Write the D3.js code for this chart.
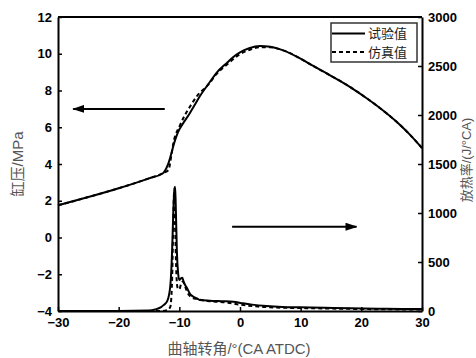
<!DOCTYPE html>
<html>
<head>
<meta charset="utf-8">
<script src="https://cdn.jsdelivr.net/npm/d3@7"></script>
<style>
  body { margin: 0; background: #fff; }
  svg { display: block; }
</style>
</head>
<body>
<div id="chart"></div>
<script>
// crank angle (°CA ATDC) and values
const pExpAngle = [-30, -25, -20, -15, -12.7, -11.8, -10.7, -10.2, -9.4, -8.3, -7.4, -6.6, -5, -3.9, -2, -1.2, 0, 1.5, 3.3, 5, 7, 9.9, 12, 15, 18.1, 21, 24, 26.3, 28, 30];
const pExp = [1.75, 2.2, 2.68, 3.22, 3.5, 4.04, 5.3, 5.75, 6.2, 6.75, 7.25, 7.7, 8.45, 8.95, 9.55, 9.8, 10.08, 10.3, 10.42, 10.38, 10.2, 9.75, 9.35, 8.8, 8.2, 7.55, 6.8, 6.15, 5.6, 4.87];

const pSimAngle = [-30, -25, -20, -15, -12.7, -11.8, -11.3, -11, -9.9, -9.1, -8, -7.2, -5, -4, -2, 0, 1.5, 3.5, 5, 7, 9.9, 12, 15, 18.1, 21, 24, 26.3, 28, 30];
const pSim = [1.75, 2.2, 2.68, 3.22, 3.5, 3.67, 4.5, 5.1, 6.1, 6.65, 7.25, 7.65, 8.4, 8.85, 9.45, 9.98, 10.2, 10.36, 10.35, 10.2, 9.75, 9.35, 8.8, 8.2, 7.55, 6.8, 6.15, 5.6, 4.87];

const hrrExpAngle = [-30, -20, -15, -14, -13, -12.6, -12, -11.5, -11.2, -11, -10.8, -10.7, -10.6, -10.4, -10.2, -10, -9.8, -9.5, -9.3, -9, -8.7, -8.3, -7.8, -7, -6.6, -5, -3, -1.1, 0.5, 2, 4.4, 7, 9.9, 14, 18.1, 24, 30];
const hrrExp = [0, 0, 5, 15, 40, 60, 100, 250, 600, 1000, 1250, 1268, 1100, 600, 385, 316, 330, 340, 300, 260, 230, 180, 150, 125, 112, 105, 100, 95, 78, 65, 51, 42, 38, 32, 27, 23, 20];

const hrrSimAngle = [-30, -13, -12, -11.5, -11.2, -11, -10.85, -10.7, -10.5, -10.3, -10, -9.7, -9.4, -9, -8.5, -8, -7, -5, -2, 0, 3, 6, 10, 15, 20, 30];
const hrrSim = [0, 0, 10, 40, 300, 900, 1220, 900, 400, 240, 220, 280, 300, 240, 170, 140, 120, 100, 85, 65, 45, 35, 30, 25, 20, 15];

const xTicks = [-30, -20, -10, 0, 10, 20, 30];
const pTicks = [-4, -2, 0, 2, 4, 6, 8, 10, 12];
const hrrTicks = [0, 500, 1000, 1500, 2000, 2500, 3000];
const legendLabels = ["试验值", "仿真值"];

const W = 476, H = 358;
const margin = { top: 17, right: 54, bottom: 47, left: 58 };
const width = W - margin.left - margin.right;
const height = H - margin.top - margin.bottom;

const svg = d3.select("#chart").append("svg")
    .attr("width", W)
    .attr("height", H);

const g = svg.append("g")
    .attr("transform", `translate(${margin.left},${margin.top})`);

// scales
const x = d3.scaleLinear().domain([-30, 30]).range([0, width]);
const yP = d3.scaleLinear().domain([-4, 12]).range([height, 0]);
const yH = d3.scaleLinear().domain([0, 3000]).range([height, 0]);

const tickFont = "'Liberation Sans', Arial, sans-serif";

function styleAxis(sel) {
    sel.select(".domain").attr("stroke", "#000").attr("stroke-width", 2);
    sel.selectAll(".tick line").attr("stroke", "#000").attr("stroke-width", 1.5);
    sel.selectAll(".tick text")
        .attr("fill", "#000")
        .style("font-family", tickFont)
        .style("font-weight", "bold")
        .style("font-size", "13px");
}

// axes, ticks point inwards
g.append("g")
    .attr("transform", `translate(0,${height})`)
    .call(d3.axisBottom(x).tickValues(xTicks).tickSize(-4).tickSizeOuter(0).tickPadding(7))
    .call(styleAxis);

g.append("g")
    .call(d3.axisLeft(yP).tickValues(pTicks).tickSize(-4).tickSizeOuter(0).tickPadding(6))
    .call(styleAxis);

g.append("g")
    .attr("transform", `translate(${width},0)`)
    .call(d3.axisRight(yH).tickValues(hrrTicks).tickFormat(d3.format("d"))
        .tickSize(-4).tickSizeOuter(0).tickPadding(6))
    .call(styleAxis);

// top border
g.append("line")
    .attr("x1", 0).attr("x2", width)
    .attr("y1", 0).attr("y2", 0)
    .attr("stroke", "#000").attr("stroke-width", 2);

// lines
const pLine = d3.line().x(d => x(d[0])).y(d => yP(d[1])).curve(d3.curveMonotoneX);
const hLine = d3.line().x(d => x(d[0])).y(d => yH(d[1])).curve(d3.curveMonotoneX);

const series = [
    { data: d3.zip(hrrSimAngle, hrrSim), gen: hLine, dash: "4,3" },
    { data: d3.zip(hrrExpAngle, hrrExp), gen: hLine, dash: null },
    { data: d3.zip(pSimAngle, pSim), gen: pLine, dash: "4,3" },
    { data: d3.zip(pExpAngle, pExp), gen: pLine, dash: null }
];

series.forEach(s => {
    g.append("path")
        .datum(s.data)
        .attr("fill", "none")
        .attr("stroke", "#000")
        .attr("stroke-width", 2)
        .attr("stroke-dasharray", s.dash)
        .attr("d", s.gen);
});

// arrows pointing to each axis
svg.append("defs").append("marker")
    .attr("id", "arrow")
    .attr("viewBox", "0 0 12 8")
    .attr("refX", 11).attr("refY", 4)
    .attr("markerWidth", 12).attr("markerHeight", 8)
    .attr("markerUnits", "userSpaceOnUse")
    .attr("orient", "auto")
    .append("path")
    .attr("d", "M0,0 L12,4 L0,8 Z")
    .attr("fill", "#000");

g.append("line")
    .attr("x1", x(-12.4)).attr("x2", x(-27.5))
    .attr("y1", yP(7)).attr("y2", yP(7))
    .attr("stroke", "#000").attr("stroke-width", 2)
    .attr("marker-end", "url(#arrow)");

g.append("line")
    .attr("x1", x(-1.3)).attr("x2", x(19.2))
    .attr("y1", yH(860)).attr("y2", yH(860))
    .attr("stroke", "#000").attr("stroke-width", 2)
    .attr("marker-end", "url(#arrow)");

// legend
const legend = svg.append("g").attr("transform", "translate(331,23)");
legend.append("rect")
    .attr("width", 86).attr("height", 39)
    .attr("fill", "#fff")
    .attr("stroke", "#333").attr("stroke-width", 1.5);

legendLabels.forEach((label, i) => {
    const yy = 10.5 + i * 18.5;
    legend.append("line")
        .attr("x1", 1).attr("x2", 34)
        .attr("y1", yy).attr("y2", yy)
        .attr("stroke", "#000").attr("stroke-width", 2)
        .attr("stroke-dasharray", i === 1 ? "4,3" : null);
    legend.append("text")
        .attr("x", 37).attr("y", yy)
        .attr("dy", "0.36em")
        .style("font-family", "'Noto Sans CJK SC', sans-serif")
        .style("font-size", "13px")
        .attr("fill", "#222")
        .text(label);
});

// axis titles
const titleFont = "'Liberation Sans', 'Noto Sans CJK SC', sans-serif";

svg.append("text")
    .attr("transform", `translate(23,${margin.top + yP(4)}) rotate(-90)`)
    .attr("text-anchor", "middle")
    .style("font-family", titleFont)
    .style("font-size", "15px")
    .attr("fill", "#555")
    .text("缸压/MPa");

svg.append("text")
    .attr("transform", `translate(471,160) rotate(-90)`)
    .attr("text-anchor", "middle")
    .style("font-family", titleFont)
    .style("font-size", "13px")
    .attr("fill", "#555")
    .text("放热率/(J/°CA)");

svg.append("text")
    .attr("x", margin.left + x(0) - 1)
    .attr("y", 354)
    .attr("text-anchor", "middle")
    .style("font-family", titleFont)
    .style("font-size", "15px")
    .attr("fill", "#555")
    .text("曲轴转角/°(CA ATDC)");
</script>
</body>
</html>
